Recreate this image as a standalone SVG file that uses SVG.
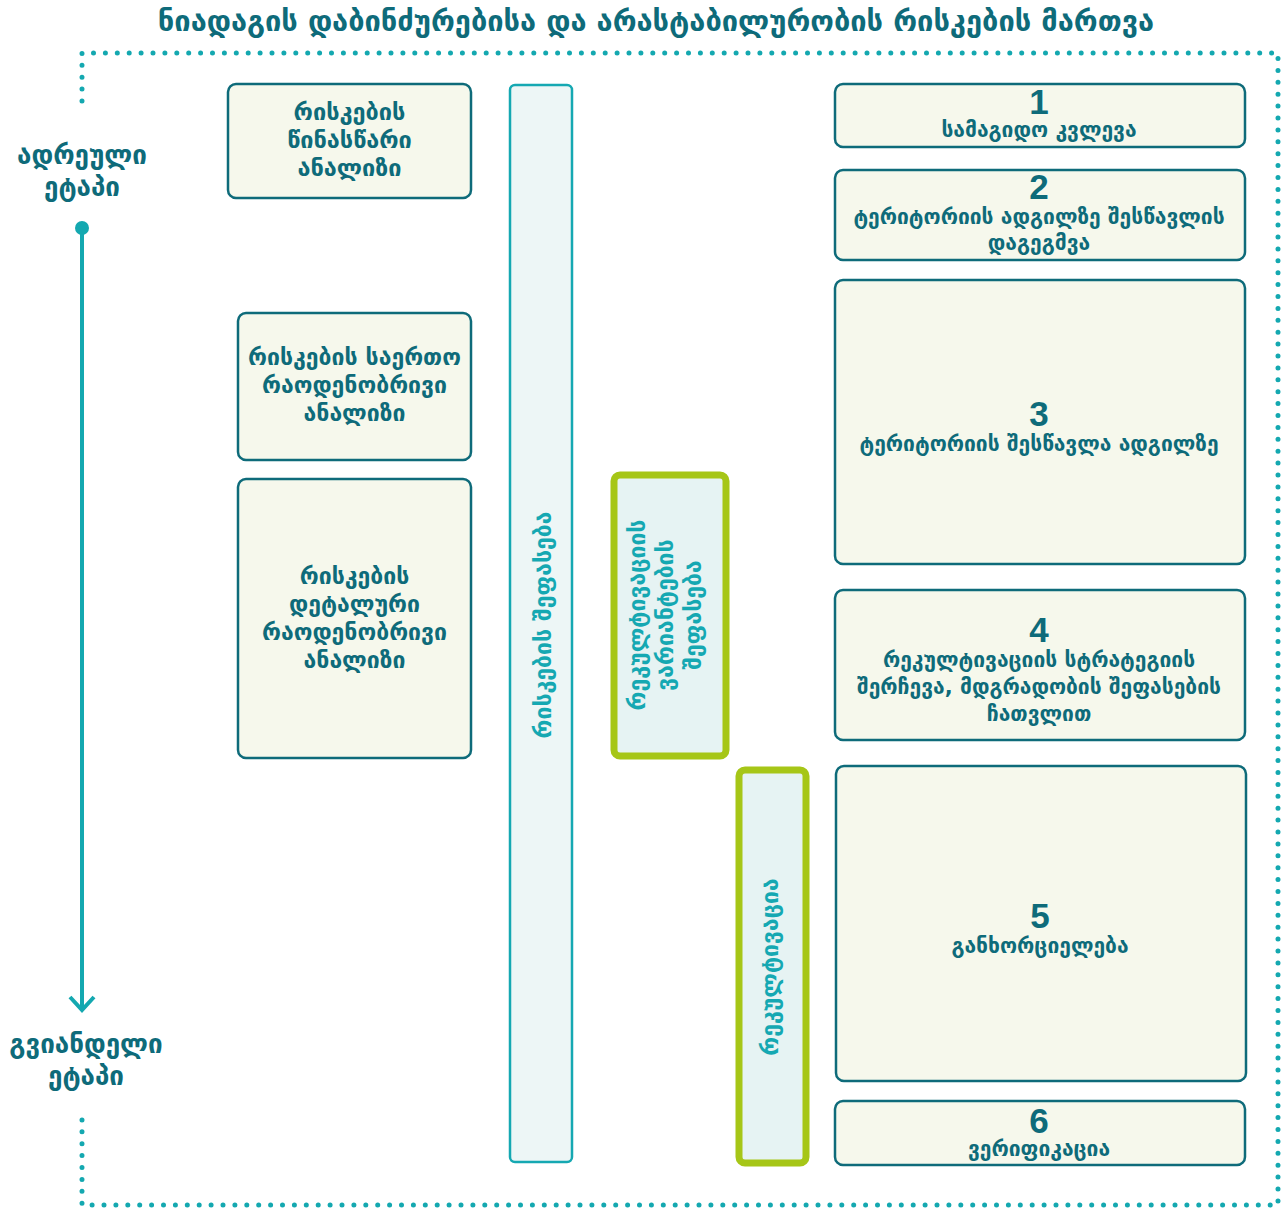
<svg xmlns="http://www.w3.org/2000/svg" width="1283" height="1209" viewBox="0 0 1283 1209">
<style>
.t{font-family:"DejaVu Sans",sans-serif;font-weight:bold;fill:#0e6b7a;text-anchor:middle}
.n{font-family:"Liberation Sans",Arial,sans-serif;font-weight:bold;fill:#0e6b7a;text-anchor:middle;font-size:35px}
.box{fill:#f6f8ec;stroke:#0e6b7a;stroke-width:2.5}
.vt{font-family:"DejaVu Sans",sans-serif;font-weight:bold;fill:#15a8b2;text-anchor:middle;font-size:23px}
.green{fill:#e6f3f3;stroke:#a6c617;stroke-width:7}
.dot{fill:none;stroke:#14a8b0;stroke-width:5;stroke-linecap:round;stroke-dasharray:0 11.9}
</style>
<rect width="1283" height="1209" fill="#ffffff"/>
<text class="t" x="656" y="31" font-size="29">ნიადაგის დაბინძურებისა და არასტაბილურობის რისკების მართვა</text>
<g id="frame">
<path class="dot" d="M82,101 V53 H1278 V1205 H82 V1113"/>
</g>
<g id="timeline">
<text class="t" x="82" y="164" font-size="26">ადრეული</text>
<text class="t" x="82" y="196" font-size="26">ეტაპი</text>
<circle cx="82" cy="228" r="7" fill="#14a8b0"/>
<line x1="82" y1="228" x2="82" y2="1010" stroke="#14a8b0" stroke-width="4"/>
<path d="M70,997 L82,1010 L94,997" fill="none" stroke="#14a8b0" stroke-width="4"/>
<text class="t" x="86" y="1053" font-size="26">გვიანდელი</text>
<text class="t" x="86" y="1085" font-size="26">ეტაპი</text>
</g>
<g id="n-pre">
<rect class="box" x="228" y="84" width="243" height="114" rx="8"/>
<text class="t" font-size="23.5"><tspan x="349.5" y="120">რისკების</tspan><tspan x="349.5" y="148">წინასწარი</tspan><tspan x="349.5" y="176">ანალიზი</tspan></text>
</g>
<g id="n-general">
<rect class="box" x="238" y="313" width="233" height="147" rx="8"/>
<text class="t" font-size="23"><tspan x="354.5" y="365">რისკების საერთო</tspan><tspan x="354.5" y="393">რაოდენობრივი</tspan><tspan x="354.5" y="421">ანალიზი</tspan></text>
</g>
<g id="n-detail">
<rect class="box" x="238" y="479" width="233" height="279" rx="8"/>
<text class="t" font-size="23"><tspan x="354.5" y="584">რისკების</tspan><tspan x="354.5" y="612">დეტალური</tspan><tspan x="354.5" y="640">რაოდენობრივი</tspan><tspan x="354.5" y="668">ანალიზი</tspan></text>
</g>
<g id="n-risk">
<rect x="510" y="85" width="62" height="1077" rx="5" fill="#edf6f6" stroke="#15a8b2" stroke-width="2.5"/>
<text class="vt" transform="translate(551,625) rotate(-90)">რისკების შეფასება</text>
</g>
<g id="n-variants">
<rect class="green" x="614" y="475" width="112" height="281" rx="6"/>
<text class="vt" transform="translate(668,615) rotate(-90)"><tspan x="0" y="-23">რეკულტივაციის</tspan><tspan x="0" y="5">ვარიანტების</tspan><tspan x="0" y="33">შეფასება</tspan></text>
</g>
<g id="n-recult">
<rect class="green" x="739" y="770" width="67" height="393" rx="6"/>
<text class="vt" transform="translate(778,967) rotate(-90)">რეკულტივაცია</text>
</g>
<g id="s1">
<rect class="box" x="835" y="84" width="410" height="63" rx="8"/>
<text class="n" x="1039" y="114">1</text>
<text class="t" x="1039" y="137" font-size="21">სამაგიდო კვლევა</text>
</g>
<g id="s2">
<rect class="box" x="835" y="170" width="410" height="90" rx="8"/>
<text class="n" x="1039" y="199">2</text>
<text class="t" font-size="21"><tspan x="1039" y="224">ტერიტორიის ადგილზე შესწავლის</tspan><tspan x="1039" y="250">დაგეგმვა</tspan></text>
</g>
<g id="s3">
<rect class="box" x="835" y="280" width="410" height="284" rx="8"/>
<text class="n" x="1039" y="426">3</text>
<text class="t" x="1039" y="451" font-size="21">ტერიტორიის შესწავლა ადგილზე</text>
</g>
<g id="s4">
<rect class="box" x="835" y="590" width="410" height="150" rx="8"/>
<text class="n" x="1039" y="642">4</text>
<text class="t" font-size="21"><tspan x="1039" y="667">რეკულტივაციის სტრატეგიის</tspan><tspan x="1039" y="694">შერჩევა, მდგრადობის შეფასების</tspan><tspan x="1039" y="721">ჩათვლით</tspan></text>
</g>
<g id="s5">
<rect class="box" x="836" y="766" width="410" height="315" rx="8"/>
<text class="n" x="1040" y="928">5</text>
<text class="t" x="1040" y="953" font-size="21">განხორციელება</text>
</g>
<g id="s6">
<rect class="box" x="835" y="1101" width="410" height="64" rx="8"/>
<text class="n" x="1039" y="1133">6</text>
<text class="t" x="1039" y="1156" font-size="21">ვერიფიკაცია</text>
</g>
</svg>
